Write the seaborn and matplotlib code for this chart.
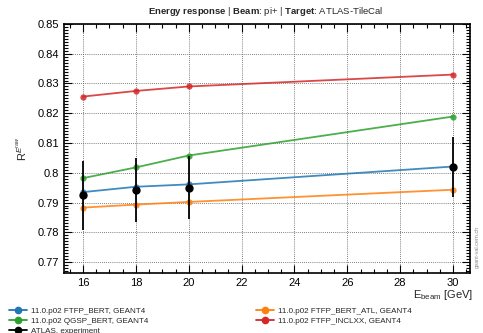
import pandas as pd
import numpy as np
import matplotlib
matplotlib.use("Agg")
import matplotlib.pyplot as plt
import seaborn as sns
from matplotlib.ticker import MultipleLocator

# data
energy = [16, 18, 20, 30]
ftfp_bert = [0.7935, 0.7953, 0.7961, 0.8021]
ftfp_bert_atl = [0.7883, 0.7893, 0.7902, 0.7943]
qgsp_bert = [0.7982, 0.8018, 0.8058, 0.8189]
ftfp_inclxx = [0.8256, 0.8275, 0.8290, 0.8330]
exp_values = [0.7924, 0.7942, 0.7949, 0.8019]
exp_errors = [0.0116, 0.0107, 0.0106, 0.0100]

labels = ["11.0.p02 FTFP_BERT, GEANT4",
          "11.0.p02 FTFP_BERT_ATL, GEANT4",
          "11.0.p02 QGSP_BERT, GEANT4",
          "11.0.p02 FTFP_INCLXX, GEANT4"]
colors = ["#1f77b4", "#ff7f0e", "#2ca02c", "#d62728"]

sns.set_style("white")
plt.rcParams['font.family'] = ['Liberation Sans', 'DejaVu Sans']
plt.rcParams['mathtext.fontset'] = 'custom'
plt.rcParams['mathtext.rm'] = 'Liberation Sans'
plt.rcParams['mathtext.it'] = 'Liberation Sans:italic'
plt.rcParams['mathtext.bf'] = 'Liberation Sans:bold'

df = pd.DataFrame({
    "energy": energy * 4,
    "response": ftfp_bert + ftfp_bert_atl + qgsp_bert + ftfp_inclxx,
    "model": [l for l in labels for _ in energy],
})

fig = plt.figure(figsize=(4.83, 3.33), dpi=100)
ax = fig.add_axes([0.1325, 0.180, 0.8405, 0.748])

sns.lineplot(data=df, x="energy", y="response", hue="model", hue_order=labels,
             palette=colors, marker="o", markersize=4.5, markeredgewidth=0,
             linewidth=1.3, alpha=0.85, ax=ax, legend=False)
ax.errorbar(energy, exp_values, yerr=exp_errors, fmt="o", color="black",
            markersize=5, elinewidth=1.3, capsize=0, zorder=5)

ax.set_xlim(15.28, 30.64)
ax.set_ylim(0.7663, 0.85)
ax.xaxis.set_major_locator(MultipleLocator(2))
ax.xaxis.set_minor_locator(MultipleLocator(0.5))
ax.yaxis.set_major_locator(MultipleLocator(0.01))
ax.yaxis.set_minor_locator(MultipleLocator(0.001))
ax.yaxis.set_major_formatter(matplotlib.ticker.FuncFormatter(lambda v, p: f"{v:g}"))
ax.tick_params(which="both", direction="in", top=True, right=True,
               bottom=True, left=True, labelsize=8, width=0.8, colors="black")
ax.tick_params(which="major", length=6)
ax.tick_params(which="minor", length=3)
ax.grid(True, which="major", linestyle=(0, (1, 1.5)), color="#555555", linewidth=0.6)
for s in ax.spines.values():
    s.set_visible(True)
    s.set_color("black")
    s.set_linewidth(1.2)

ax.set_xlabel("")
ax.set_ylabel(r"R$^{E^{raw}}$", fontsize=8, labelpad=6)
fig.text(0.98, 0.115, r"E$_{\mathrm{beam}}$ [GeV]", ha="right", va="center", fontsize=8)
fig.text(0.55, 0.965,
         r"$\mathbf{Energy\ response}$ | $\mathbf{Beam}$: pi+ | $\mathbf{Target}$: ATLAS-TileCal",
         ha="center", va="center", fontsize=6.8)
fig.text(0.988, 0.26, "geant-val.cern.ch", rotation=90, fontsize=4,
         color="#888888", ha="center", va="center")

handles = [plt.Line2D([], [], color=c, marker="o", markersize=4.5, lw=1.3)
           for c in colors]
exp_handle = plt.Line2D([], [], color="black", marker="o", markersize=4.5, lw=1.3)
order = [handles[0], handles[2], exp_handle, handles[1], handles[3]]
order_labels = [labels[0], labels[2], "ATLAS, experiment", labels[1], labels[3]]
fig.legend(order, order_labels, loc="upper left", bbox_to_anchor=(0.012, 0.086),
           ncol=2, fontsize=5.8, frameon=False, handlelength=2.2,
           columnspacing=13.4, labelspacing=0.25, borderaxespad=0, handletextpad=0.5)

fig.savefig("out.png", dpi=100)
